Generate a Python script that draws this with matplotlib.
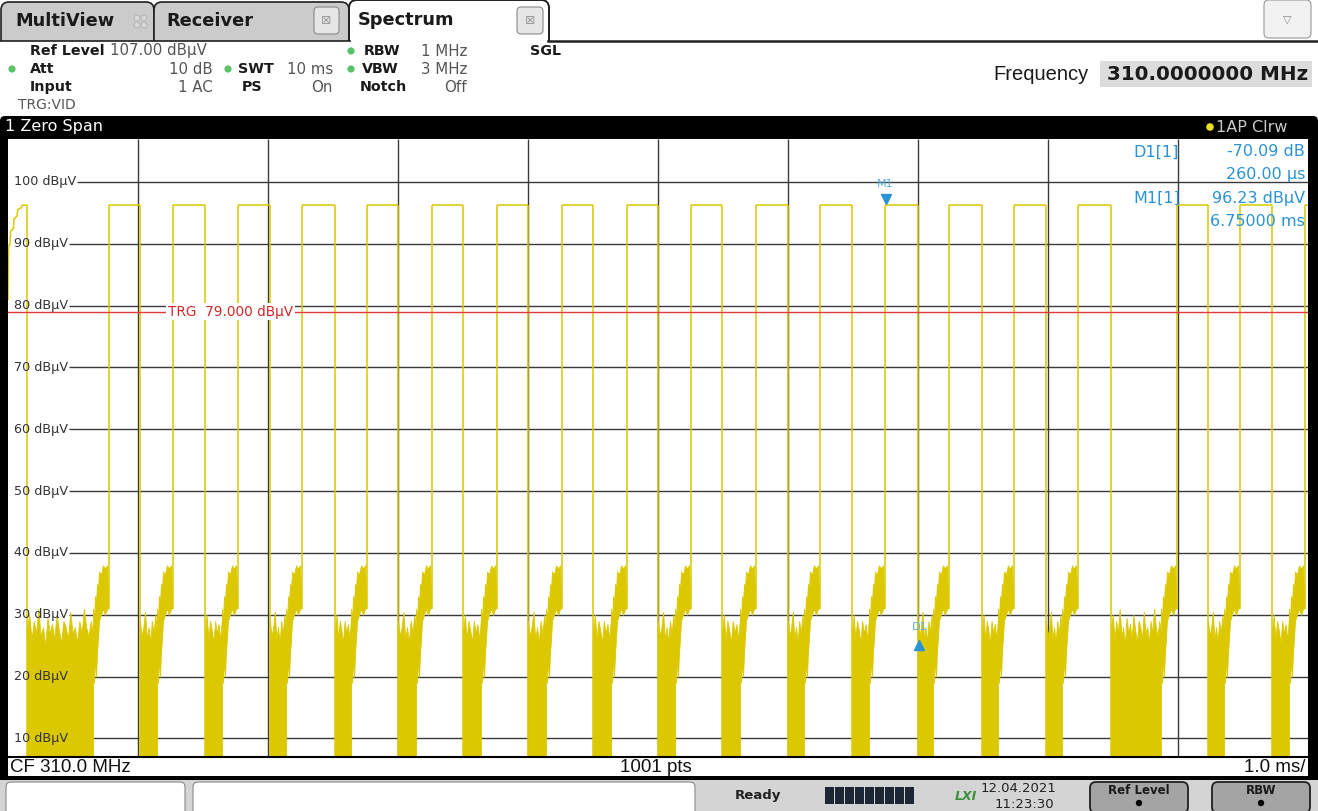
import numpy as np
import matplotlib
matplotlib.use('Agg')
import matplotlib.pyplot as plt
from matplotlib.patches import Rectangle, FancyBboxPatch, Circle

W, H = 1318, 811
NARROW = ['Liberation Sans', 'DejaVu Sans']

# ---- zero span trace, 10 ms sweep ----
ref_level = 107.0
bottom_level = 7.0
sweep_ms = 10.0
grid_levels = [100, 90, 80, 70, 60, 50, 40, 30, 20, 10]
grid_times = [1, 2, 3, 4, 5, 6, 7, 8, 9]
trigger_level = 79.0
high_level = 96.23

# pulse edges (ms)
fall_t = [0.146, 1.015, 1.515, 2.015, 2.515, 3.000, 3.500, 4.000, 4.500, 5.000,
          5.492, 6.000, 6.492, 7.000, 7.492, 7.985, 8.485, 9.231, 9.723]
rise_t = [0.777, 1.269, 1.769, 2.262, 2.762, 3.262, 3.762, 4.262, 4.762, 5.254,
          5.754, 6.246, 6.746, 7.238, 7.738, 8.231, 8.992, 9.477, 9.977]

# settling staircase at the start of the sweep
start_t = [0.0, 0.004, 0.016, 0.020, 0.042, 0.046, 0.070, 0.075, 0.100, 0.108, 0.146]
start_v = [81.0, 89.5, 90.0, 92.0, 92.5, 94.0, 94.5, 95.5, 95.8, 96.23, 96.23]

# low state: noise floor, then a ramp just before each rising edge
ramp_dt = [-0.123, -0.115, -0.108, -0.100, -0.092, -0.085, -0.077, -0.062, -0.046, -0.031, -0.015, -0.008]
ramp_hi = [31, 29, 33, 32, 35, 34, 37, 36.5, 38, 37.5, 38, 33]
ramp_lo = [22, 19, 23, 20, 24, 26, 29, 30, 31, 30, 31, 31]
floor_top_a = [27, 30, 26, 29, 27.5, 25.5, 29, 27, 28.5, 26, 29.5]
floor_top_b = [29, 26.5, 28, 30.5, 26, 28, 25.5, 29, 27, 30, 27.5]
floor_top_long = [28, 30, 26, 29, 27, 31, 26.5, 28, 25, 29.5, 27, 28.5, 26, 30, 27.5,
                  25.5, 29, 28, 26, 30.5, 27, 28, 25.5, 29, 27, 31, 28, 26.5, 29, 27]

m1_t, m1_v = 6.75, 96.23
d1_t, d1_v = 7.01, 26.14

YEL = '#DCC800'
BLUE = '#2A93D5'

fig = plt.figure(figsize=(W / 100, H / 100), dpi=100)
fig.patch.set_facecolor('white')

# background / frame layer in pixel coords
bg = fig.add_axes([0, 0, 1, 1], zorder=-1)
bg.set_xlim(0, W)
bg.set_ylim(H, 0)
bg.axis('off')

def rbox(x0, y0, x1, y1, fc, ec='none', lw=1.0, r=5):
    p = FancyBboxPatch((x0, y0), x1 - x0, y1 - y0,
                       boxstyle='round,pad=0,rounding_size=%g' % r,
                       fc=fc, ec=ec, lw=lw)
    bg.add_patch(p)
    return p

def btext(x, y, s, **kw):
    kw.setdefault('va', 'center')
    kw.setdefault('fontsize', 10.5)
    bg.text(x, y, s, **kw)

# tabs
rbox(1, 2, 154, 48, '#CBCBCB', ec='#202020', lw=1.2, r=8)
rbox(154, 2, 349, 48, '#CBCBCB', ec='#202020', lw=1.2, r=8)
rbox(349, 0, 549, 48, 'white', ec='#202020', lw=1.4, r=8)
bg.add_patch(Rectangle((0, 41), W, 75, fc='white', ec='none'))
bg.plot([0, 350], [40.5, 40.5], color='#202020', lw=1.2)
bg.plot([548, W], [40.5, 40.5], color='#202020', lw=1.8)
btext(15, 21, 'MultiView', fontsize=12.8, fontweight='bold', color='#1a1a1a')
for cx, cy in [(137, 18), (144, 18), (137, 25), (144, 25)]:
    bg.add_patch(Circle((cx, cy), 2.9, fc='#D8D8D8', ec='#B0B0B0', lw=0.6))
btext(166, 21, 'Receiver', fontsize=12.8, fontweight='bold', color='#1a1a1a')
rbox(314, 7, 339, 34, '#E6E6E6', ec='#8A8A8A', lw=0.8, r=4)
btext(326.5, 20.5, '⊠', fontsize=9, color='#9A9A9A', ha='center')
btext(358, 20, 'Spectrum', fontsize=12.8, fontweight='bold', color='#1a1a1a')
rbox(517, 7, 543, 34, '#E6E6E6', ec='#8A8A8A', lw=0.8, r=4)
btext(530, 20.5, '⊠', fontsize=9, color='#9A9A9A', ha='center')
rbox(1264, 0, 1311, 38, '#F2F2F2', ec='#9A9A9A', lw=0.8, r=5)
btext(1287.5, 19, '▽', fontsize=8, color='#8A8A8A', ha='center')

# setting header
LAB = dict(fontweight='bold', color='#1a1a1a', fontsize=10.3)
VAL = dict(color='#555555', fontsize=10.8)
btext(30, 51, 'Ref Level', **LAB)
btext(110, 51, '107.00 dBµV', **VAL)
btext(364, 51, 'RBW', **LAB)
btext(467, 51, '1 MHz', ha='right', **VAL)
btext(530, 51, 'SGL', **LAB)
btext(30, 69, 'Att', **LAB)
btext(213, 69, '10 dB', ha='right', **VAL)
btext(238, 69, 'SWT', **LAB)
btext(333, 69, '10 ms', ha='right', **VAL)
btext(362, 69, 'VBW', **LAB)
btext(467, 69, '3 MHz', ha='right', **VAL)
btext(30, 87, 'Input', **LAB)
btext(213, 87, '1 AC', ha='right', **VAL)
btext(242, 87, 'PS', **LAB)
btext(333, 87, 'On', ha='right', **VAL)
btext(360, 87, 'Notch', **LAB)
btext(467, 87, 'Off', ha='right', **VAL)
btext(18, 105, 'TRG:VID', color='#555555', fontsize=10)
for cx, cy in [(12, 69), (228, 69), (351, 51), (351, 69)]:
    bg.add_patch(Circle((cx, cy), 3.6, fc='#5CBF6A', ec='none'))
btext(1089, 74, 'Frequency', ha='right', fontsize=14.5, color='#1a1a1a', family=NARROW)
bg.add_patch(Rectangle((1100, 61), 212, 26, fc='#DCDCDC', ec='none'))
btext(1308, 74, '310.0000000 MHz', ha='right', fontsize=14.3, fontweight='bold', color='#1a1a1a')

# window frame
rbox(0, 116, W, 150, 'black', r=5)
bg.add_patch(Rectangle((0, 130), 8, 650, fc='black', ec='none'))
bg.add_patch(Rectangle((1308, 130), 10, 650, fc='black', ec='none'))
btext(5, 127, '1 Zero Span', fontsize=11.5, color='white')
bg.add_patch(Circle((1210, 127), 3.8, fc='#E8E020', ec='none'))
btext(1216, 127, '1AP Clrw', fontsize=11.5, color='#C8C8C8')
bg.add_patch(Rectangle((8, 757), 1300, 19, fc='white', ec='none'))
bg.add_patch(Rectangle((0, 776), W, 3.5, fc='black', ec='none'))
btext(10, 767, 'CF 310.0 MHz', fontsize=13.5, color='#111111', family=NARROW)
btext(620, 767, '1001 pts', fontsize=13.5, color='#111111', family=NARROW)
btext(1305, 767, '1.0 ms/', fontsize=13.5, color='#111111', ha='right', family=NARROW)

# status bar
bg.add_patch(Rectangle((0, 779.5), W, 32, fc='#D4D4D4', ec='none'))
rbox(6, 782, 185, 816, 'white', ec='#8A8A8A', lw=0.8, r=5)
rbox(193, 782, 695, 816, 'white', ec='#8A8A8A', lw=0.8, r=5)
btext(735, 796, 'Ready', fontsize=9.5, color='#222222', fontweight='bold')
for i in range(9):
    bg.add_patch(Rectangle((825 + i * 10, 787), 9, 17, fc='#1C2634', ec='none'))
btext(955, 797, 'LXI', fontsize=9, fontweight='bold', style='italic', color='#3E8E3E')
btext(1018, 789, '12.04.2021', fontsize=9.5, color='#222222', ha='center')
btext(1024, 804, '11:23:30', fontsize=9.5, color='#222222', ha='center')
for x0, x1, lab in [(1090, 1188, 'Ref Level'), (1212, 1310, 'RBW')]:
    rbox(x0, 782, x1, 813, '#A4A4A4', ec='#202020', lw=1.3, r=6)
    btext((x0 + x1) / 2, 790, lab, fontsize=8.5, fontweight='bold', color='#1a1a1a', ha='center')
    bg.add_patch(Circle(((x0 + x1) / 2, 803), 3.2, fc='black', ec='none'))

# ---- diagram ----
AX_L, AX_R, AX_T, AX_B = 8, 1308, 138.6, 757
ax = fig.add_axes([AX_L / W, 1 - AX_B / H, (AX_R - AX_L) / W, (AX_B - AX_T) / H])
ax.set_xlim(0, sweep_ms)
ax.set_ylim(bottom_level, ref_level)
ax.set_xticks([])
ax.set_yticks([])
for s in ['top', 'left', 'right']:
    ax.spines[s].set_visible(False)
ax.spines['bottom'].set_color('black')
ax.spines['bottom'].set_linewidth(1.5)

def tx(x):
    return (x - AX_L) / (AX_R - AX_L) * sweep_ms

def lv(y):
    return ref_level - (y - AX_T) / (AX_B - AX_T) * (ref_level - bottom_level)

ax.vlines(grid_times, bottom_level, ref_level, color='#3A3A3A', lw=1.0, zorder=1)
labels = []
for g in grid_levels:
    labels.append(ax.text(tx(14), g, '%d dBµV' % g, fontsize=9.2, color='#333333',
                          va='center', ha='left', zorder=4))
fig.canvas.draw()
rend = fig.canvas.get_renderer()
for g, t in zip(grid_levels, labels):
    bb = t.get_window_extent(rend)
    x_end = ax.transData.inverted().transform((bb.x1 + 1, 0))[0]
    ax.hlines(g, x_end, sweep_ms, color='#3A3A3A', lw=1.0, zorder=1)

# trace
ax.plot(start_t, start_v, color=YEL, lw=1.1, zorder=2)
ax.vlines(fall_t, bottom_level, high_level, color=YEL, lw=1.1, zorder=2)
ax.vlines(rise_t, ramp_lo[-1], high_level, color=YEL, lw=1.1, zorder=2)
pulse_end = fall_t[1:] + [sweep_ms]
ax.hlines([high_level] * len(rise_t), rise_t, pulse_end, color=YEL, lw=1.1, zorder=2)
for i, (f, r) in enumerate(zip(fall_t, rise_t)):
    if r - f > 0.4:
        top = floor_top_long
    else:
        top = floor_top_a if i % 2 == 0 else floor_top_b
    tt = np.linspace(f, r + ramp_dt[0], len(top))
    ax.fill_between(tt, bottom_level, top, color=YEL, lw=0.6, ec=YEL, zorder=2)
    rt = [r + d for d in ramp_dt]
    ax.fill_between(rt, ramp_lo, ramp_hi, color=YEL, lw=0.6, ec=YEL, zorder=2)

# trigger
ax.axhline(trigger_level, color='#E03A3A', lw=1.0, zorder=3)
ax.text(tx(168), trigger_level, 'TRG  79.000 dBµV', color='#D02828', fontsize=9.8,
        va='center', ha='left', zorder=5,
        bbox=dict(fc='white', ec='none', pad=1.2))

# markers
ax.plot(m1_t, lv(199), marker='v', ms=7, color=BLUE, zorder=6, clip_on=False)
ax.text(m1_t, lv(184), 'M1', fontsize=8, color='#5AAFE0', ha='center', va='center', zorder=6)
ax.plot(d1_t, lv(645), marker='^', ms=7, color=BLUE, zorder=6)
ax.text(d1_t, lv(627), 'D1', fontsize=8, color='#5AAFE0', ha='center', va='center', zorder=6)

INFO = dict(fontsize=11.5, color=BLUE, va='center', zorder=6)
ax.text(tx(1133), lv(152), 'D1[1]', ha='left', **INFO)
ax.text(tx(1305), lv(152), '-70.09 dB', ha='right', **INFO)
ax.text(tx(1305), lv(175), '260.00 µs', ha='right', **INFO)
ax.text(tx(1133), lv(198), 'M1[1]', ha='left', **INFO)
ax.text(tx(1305), lv(198), '96.23 dBµV', ha='right', **INFO)
ax.text(tx(1305), lv(222), '6.75000 ms', ha='right', **INFO)

fig.savefig('out.png', dpi=100, facecolor=fig.get_facecolor())
